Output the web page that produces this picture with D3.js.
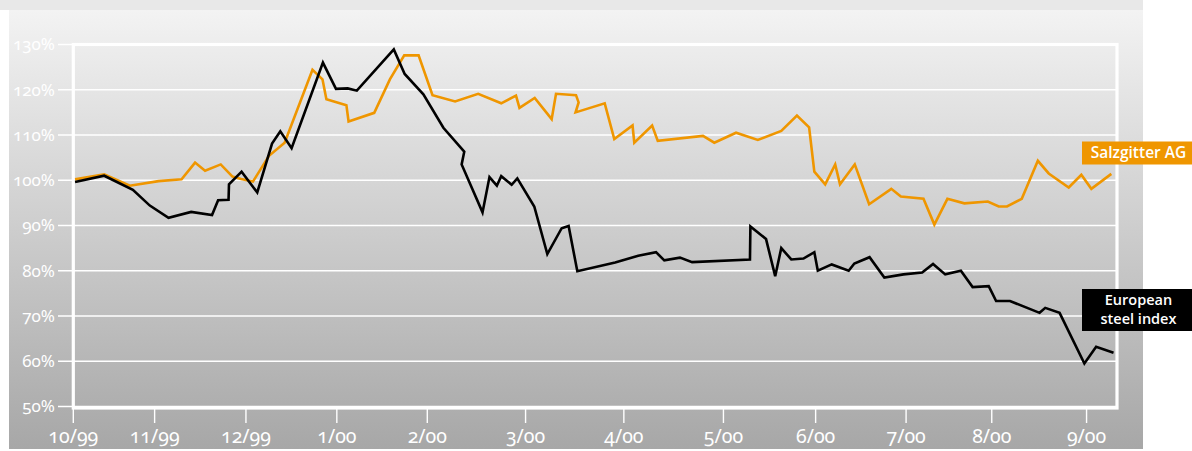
<!DOCTYPE html>
<html>
<head>
<meta charset="utf-8">
<script src="https://cdn.jsdelivr.net/npm/d3@7"></script>
<style>
    body { margin: 0; background: #fff; }
    svg { display: block; }
    .tick-label { font-family: "Noto Sans", Lato, sans-serif; fill: #fff; font-variant-numeric: oldstyle-nums; font-feature-settings: "onum" 1; }
    .legend-label { font-family: "Open Sans", "Noto Sans", sans-serif; font-weight: 600; fill: #fff; }
</style>
</head>
<body>
<svg id="chart" width="1192" height="451"></svg>
<script>
// Chart data (x in trading days from 1 Oct 1999, y in % of start value)
const xTickValues = [0, 18.7, 39.7, 60.6, 81.4, 104.0, 126.6, 149.5, 170.7, 191.5, 211.2, 233.0];
const xTickLabels = ['10/99', '11/99', '12/99', '1/00', '2/00', '3/00', '4/00', '5/00', '6/00', '7/00', '8/00', '9/00'];
const yTickValues = [50, 60, 70, 80, 90, 100, 110, 120, 130];

const salzgitterDays = [0.4, 7.1, 13.0, 19.6, 24.9, 28.0, 30.3, 33.9, 36.6, 38.6, 41.3, 45.0, 48.6, 55.0, 57.3,
    58.2, 62.8, 63.3, 69.2, 72.8, 76.1, 79.4, 82.6, 87.8, 93.1, 98.4, 101.8, 102.6, 106.1, 110.0, 111.0, 115.6,
    116.2, 115.5, 122.2, 124.4, 128.6, 129.0, 133.1, 134.4, 144.8, 147.4, 152.4, 157.4, 162.8, 166.4, 169.2,
    170.4, 172.9, 175.2, 176.3, 179.7, 183.0, 188.1, 190.3, 195.5, 198.0, 201.0, 204.9, 210.3, 212.8, 214.7,
    218.1, 221.8, 224.3, 228.9, 231.8, 234.1, 238.7];
const salzgitterValues = [100.2, 101.3, 98.8, 99.8, 100.2, 103.9, 102.1, 103.5, 100.8, 100.3, 99.7, 105.4, 108.3,
    124.4, 122.3, 117.9, 116.6, 113.0, 114.9, 122.3, 127.6, 127.6, 118.8, 117.4, 119.1, 117.0, 118.7, 116.0,
    118.2, 113.5, 119.1, 118.8, 117.2, 115.0, 117.0, 109.1, 112.1, 108.3, 112.1, 108.7, 109.8, 108.3, 110.5,
    108.9, 110.9, 114.3, 111.7, 101.9, 99.1, 103.5, 99.1, 103.5, 94.7, 98.1, 96.4, 95.9, 90.2, 95.9, 94.9,
    95.3, 94.2, 94.2, 95.9, 104.3, 101.5, 98.4, 101.2, 98.1, 101.4];

const steelDays = [0.4, 7.1, 13.7, 17.6, 21.9, 27.1, 31.9, 33.3, 35.7, 35.8, 38.7, 42.3, 45.7, 47.6, 50.2, 57.4,
    60.4, 63.1, 65.2, 73.7, 76.2, 80.5, 85.1, 89.9, 89.3, 94.1, 95.7, 97.4, 98.4, 100.8, 102.1, 106.0, 109.0,
    112.3, 113.9, 115.9, 124.6, 129.9, 134.0, 135.9, 139.5, 142.3, 155.6, 155.7, 159.3, 161.4, 162.8, 165.1,
    167.9, 170.4, 171.2, 174.4, 178.3, 179.6, 183.1, 186.5, 190.9, 195.2, 197.7, 200.5, 204.1, 206.8, 210.5,
    212.2, 215.4, 222.2, 223.5, 226.8, 232.5, 235.2, 239.2];
const steelValues = [99.6, 101.0, 97.9, 94.4, 91.7, 93.0, 92.3, 95.6, 95.7, 99.1, 101.9, 97.3, 108.1, 110.8,
    107.1, 126.0, 120.2, 120.3, 119.8, 128.9, 123.5, 119.0, 111.6, 106.3, 103.5, 92.9, 100.7, 98.8, 100.9,
    99.0, 100.4, 94.2, 83.7, 89.4, 89.9, 79.9, 81.8, 83.3, 84.1, 82.3, 82.9, 81.9, 82.5, 89.8, 87.0, 78.8,
    85.0, 82.5, 82.7, 84.1, 80.0, 81.4, 80.0, 81.6, 83.0, 78.5, 79.2, 79.6, 81.5, 79.2, 80.0, 76.4, 76.6,
    73.3, 73.3, 70.7, 71.8, 70.7, 59.5, 63.2, 61.9];

const orange = '#ef9600';

const svg = d3.select('#chart');

// Scales
const x = d3.scaleLinear().domain([0, 240]).range([73.3, 1117]);
const y = d3.scaleLinear().domain([50, 130]).range([406.5, 44.5]);

// Background panel with vertical gradient
const grad = svg.append('defs').append('linearGradient')
    .attr('id', 'bg')
    .attr('x1', 0).attr('y1', 0).attr('x2', 0).attr('y2', 1);
grad.append('stop').attr('offset', '0%').attr('stop-color', '#f3f3f3');
grad.append('stop').attr('offset', '100%').attr('stop-color', '#a7a7a7');

svg.append('rect')
    .attr('x', 0).attr('y', 0)
    .attr('width', 1143).attr('height', 10)
    .attr('fill', '#e8e8e8');

svg.append('rect')
    .attr('x', 9).attr('y', 10)
    .attr('width', 1134).attr('height', 439)
    .attr('fill', 'url(#bg)');

// Horizontal grid lines (extend left as ticks)
svg.append('g')
    .selectAll('line')
    .data(yTickValues)
    .join('line')
    .attr('x1', 58)
    .attr('x2', x.range()[1])
    .attr('y1', d => y(d))
    .attr('y2', d => y(d))
    .attr('stroke', '#fff')
    .attr('stroke-width', 1.4);

// Y labels
svg.append('g')
    .selectAll('text')
    .data(yTickValues)
    .join('text')
    .attr('class', 'tick-label')
    .attr('x', 55)
    .attr('y', d => y(d))
    .attr('dy', '0.35em')
    .attr('text-anchor', 'end')
    .style('font-size', '17px')
    .text(d => d + '%');

// X ticks and labels
const xt = svg.append('g')
    .selectAll('g')
    .data(xTickValues)
    .join('g')
    .attr('transform', d => `translate(${x(d)},0)`);

xt.append('line')
    .attr('y1', y(50))
    .attr('y2', 423)
    .attr('stroke', '#fff')
    .attr('stroke-width', 1.4);

xt.append('text')
    .attr('class', 'tick-label')
    .attr('y', 443)
    .attr('text-anchor', 'middle')
    .style('font-size', '19.5px')
    .text((d, i) => xTickLabels[i]);

// Plot frame
svg.append('rect')
    .attr('x', x.range()[0])
    .attr('y', y(130))
    .attr('width', x.range()[1] - x.range()[0])
    .attr('height', y(50) - y(130) + 1.5)
    .attr('fill', 'none')
    .attr('stroke', '#fff')
    .attr('stroke-width', 3.2);

// Lines
const line = d3.line()
    .x(d => x(d[0]))
    .y(d => y(d[1]));

svg.append('path')
    .datum(d3.zip(salzgitterDays, salzgitterValues))
    .attr('d', line)
    .attr('fill', 'none')
    .attr('stroke', orange)
    .attr('stroke-width', 2.6);

svg.append('path')
    .datum(d3.zip(steelDays, steelValues))
    .attr('d', line)
    .attr('fill', 'none')
    .attr('stroke', '#000')
    .attr('stroke-width', 2.6);

// Legend labels
svg.append('rect')
    .attr('x', 1082).attr('y', 141.5)
    .attr('width', 110).attr('height', 23)
    .attr('fill', orange);

svg.append('text')
    .attr('class', 'legend-label')
    .attr('x', 1138.5).attr('y', 157.5)
    .attr('text-anchor', 'middle')
    .style('font-size', '15.5px')
    .text('Salzgitter AG');

svg.append('rect')
    .attr('x', 1082).attr('y', 289)
    .attr('width', 110).attr('height', 42)
    .attr('fill', '#000');

// Two separate lines so the label wraps like the reference
svg.append('text')
    .attr('class', 'legend-label')
    .attr('x', 1138.5).attr('y', 305)
    .attr('text-anchor', 'middle')
    .style('font-size', '14.5px')
    .text('European');

svg.append('text')
    .attr('class', 'legend-label')
    .attr('x', 1138.5).attr('y', 324)
    .attr('text-anchor', 'middle')
    .style('font-size', '14.5px')
    .text('steel index');
</script>
</body>
</html>
